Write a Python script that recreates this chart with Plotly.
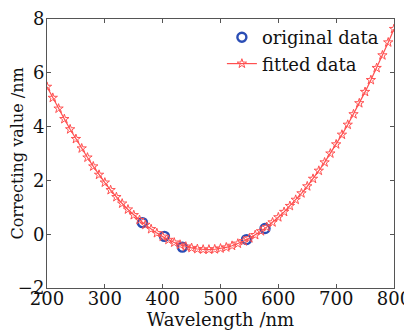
import plotly.graph_objects as go

wavelength_fit = list(range(200, 801, 10))
fitted_values = [
    5.48, 5.07, 4.67, 4.28, 3.90, 3.54, 3.19, 2.85, 2.52, 2.21,
    1.92, 1.64, 1.38, 1.14, 0.92, 0.71, 0.53, 0.35, 0.19, 0.04,
    -0.09, -0.21, -0.31, -0.39, -0.46, -0.51, -0.55, -0.57, -0.57, -0.56,
    -0.53, -0.49, -0.43, -0.35, -0.26, -0.15, -0.03, 0.11, 0.27, 0.44,
    0.63, 0.83, 1.05, 1.28, 1.52, 1.78, 2.06, 2.36, 2.67, 3.00,
    3.34, 3.70, 4.07, 4.46, 4.87, 5.29, 5.73, 6.18, 6.65, 7.13, 7.63,
]
wavelength_orig = [365, 403, 434, 545, 577]
orig_values = [0.43, -0.08, -0.48, -0.2, 0.21]

x_ticks = [200, 300, 400, 500, 600, 700, 800]
y_ticks = [-2, 0, 2, 4, 6, 8]

FONT = "DejaVu Serif"
TXT = "#111111"

fig = go.Figure()
fig.add_trace(go.Scatter(
    x=wavelength_orig, y=orig_values, mode="markers", name="original data",
    marker=dict(symbol="circle-open", size=9, color="#2a4db5", line=dict(width=2.4, color="#2a4db5")),
))
fig.add_trace(go.Scatter(
    x=wavelength_fit, y=fitted_values, mode="lines+markers", name="fitted data",
    line=dict(color="#ff5050", width=1.2),
    marker=dict(symbol="star-open", size=7, color="#ff5050", line=dict(width=1, color="#ff5050")),
))

axis_common = dict(
    showline=True, linecolor="#555555", linewidth=1, mirror="ticks",
    ticks="inside", ticklen=4, tickcolor="#555555", showgrid=False, zeroline=False,
    tickfont=dict(family=FONT, size=18, color=TXT), automargin=False,
)
fig.update_xaxes(range=[200, 800], tickvals=x_ticks, ticklabelstandoff=-6,
                 title=dict(text="Wavelength /nm", font=dict(family=FONT, size=18, color=TXT), standoff=0),
                 **axis_common)
fig.update_yaxes(range=[-2, 8], tickvals=y_ticks, ticklabelstandoff=-2,
                 title=dict(text="Correcting value /nm", font=dict(family=FONT, size=16, color=TXT), standoff=0),
                 **axis_common)

fig.update_layout(
    width=404, height=327,
    margin=dict(l=39, r=18, t=11, b=47),
    paper_bgcolor="white", plot_bgcolor="white",
    font=dict(family=FONT, size=18, color=TXT),
    showlegend=True,
    legend=dict(x=0.504, y=1.0, xanchor="left", yanchor="top", bgcolor="rgba(0,0,0,0)",
                font=dict(family=FONT, size=18, color=TXT),
                itemwidth=30, tracegroupgap=0),
)

fig.write_html("out.html")
